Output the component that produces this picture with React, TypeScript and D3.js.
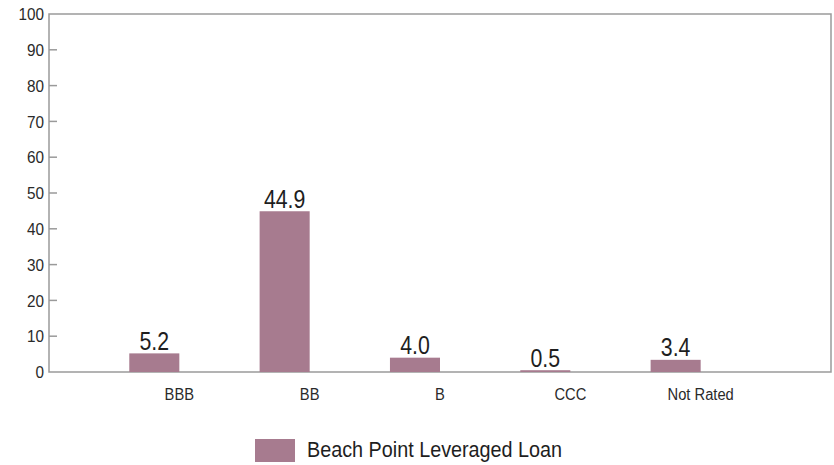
import React from "react";
import * as d3 from "d3";

const categories = ["BBB", "BB", "B", "CCC", "Not Rated"];
const values = [5.2, 44.9, 4.0, 0.5, 3.4];
const valueLabels = ["5.2", "44.9", "4.0", "0.5", "3.4"];
const yTicks = [0, 10, 20, 30, 40, 50, 60, 70, 80, 90, 100];
const seriesName = "Beach Point Leveraged Loan";

const W = 834;
const H = 465;
const left = 49;
const right = 831;
const top = 14;
const bottom = 372;
const barColor = "#a77b8f";
const axisColor = "#9a9a9a";
const font = "'Liberation Sans', Arial, sans-serif";

export default function App() {
  const x = d3.scaleBand<string>().domain(categories).range([left, right]).paddingInner(0).paddingOuter(0.5);
  const y = d3.scaleLinear().domain([0, 100]).range([bottom, top]);
  const barW = x.step() * 0.384;

  return (
    <svg width={W} height={H} style={{ position: "absolute", left: 0, top: 0 }} fontFamily={font}>
      <rect x={0} y={0} width={W} height={H} fill="#fff" />
      {/* frame */}
      <rect x={left} y={top} width={right - left} height={bottom - top} fill="none" stroke={axisColor} strokeWidth={1.5} />
      {/* y ticks */}
      {yTicks.map((t) => (
        <g key={t}>
          {t > 0 && t < 100 && (
            <line x1={left} x2={left + 8} y1={y(t)} y2={y(t)} stroke={axisColor} strokeWidth={1.5} />
          )}
          <text x={44} y={y(t)} dy="0.36em" textAnchor="end" fontSize={17} fill="#2a2a2a" transform={`translate(${44},0) scale(0.9,1) translate(${-44},0)`}>
            {t}
          </text>
        </g>
      ))}
      {/* bars */}
      {categories.map((c, i) => {
        const cx = (x(c) as number) + x.bandwidth() / 2;
        const bx = cx - barW;
        const lx = bx + barW / 2;
        return (
          <g key={c}>
            <rect x={bx} y={y(values[i])} width={barW} height={bottom - y(values[i])} fill={barColor} />
            <text x={lx} y={y(values[i]) - 3.5} textAnchor="middle" fontSize={26} fill="#1e1e1e" transform={`translate(${lx},0) scale(0.82,1) translate(${-lx},0)`}>
              {valueLabels[i]}
            </text>
            <text x={cx} y={400} textAnchor="middle" fontSize={16} fill="#2a2a2a" transform={`translate(${cx},0) scale(0.92,1) translate(${-cx},0)`}>
              {c}
            </text>
          </g>
        );
      })}
      {/* legend */}
      <rect x={255} y={439} width={40} height={23} fill={barColor} />
      <text x={307} y={457} fontSize={22} fill="#1e1e1e" transform={`translate(307,0) scale(0.9,1) translate(-307,0)`}>
        {seriesName}
      </text>
    </svg>
  );
}
